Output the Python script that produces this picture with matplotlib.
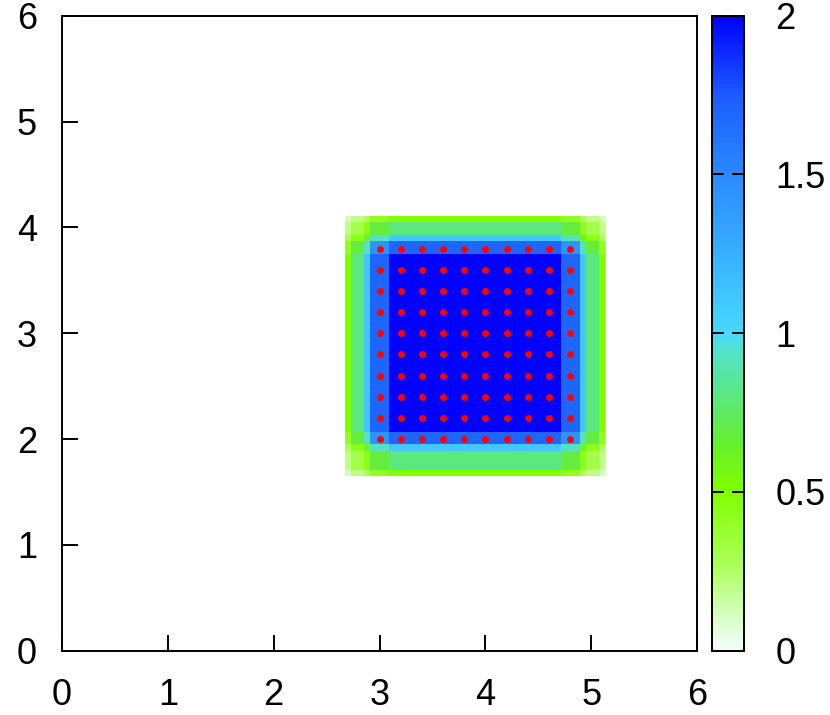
import numpy as np
import matplotlib
matplotlib.use('Agg')
import matplotlib.pyplot as plt
from matplotlib.colors import LinearSegmentedColormap

plt.rcParams['font.family'] = ['Liberation Sans', 'DejaVu Sans']

# data ~~~~~~~~~~~~~~~~~~~~~~~~~~~~~~~~~~~~~~~~~~~~~~~~~~~~~~~~~~~~~
# sample grid: 101 points from 0 to 6 (step 0.06) in both directions
n_grid = 101
x_start = 45
x_profile = [0.5, 0.8, 0.8, 1.1, 1.7, 1.7, 1.7] + [2.0] * 27 + \
            [1.7, 1.7, 1.7, 1.1, 0.8, 0.8, 0.5]
# profile, starting at sample 28 (y = 1.68)
y_start = 28
y_profile = [0.5, 0.8, 0.8, 0.8, 1.1, 1.7, 1.7] + [2.0] * 28 + \
            [1.7, 1.7, 1.1, 0.8, 0.8, 0.5]

dot_x = [3.0, 3.2, 3.4, 3.6, 3.8, 4.0, 4.2, 4.4, 4.6, 4.8]
dot_y = [2.0, 2.2, 2.4, 2.6, 2.8, 3.0, 3.2, 3.4, 3.6, 3.8]

cbar_ticks = [0, 0.5, 1, 1.5, 2]
cbar_labels = ['0', '0.5', '1', '1.5', '2']
axis_ticks = [0, 1, 2, 3, 4, 5, 6]

# colour map ~~~~~~~~~~~~~~~~~~~~~~~~~~~~~~~~~~~~~~~~~~~~~~~~~~~~~~~
cmap = LinearSegmentedColormap.from_list('pal', [
    (0.000, '#f2fff6'), (0.050, '#d8ffc8'), (0.125, '#b0ff60'),
    (0.250, '#80ff00'), (0.325, '#66ef2c'), (0.400, '#5be87f'),
    (0.475, '#52e2cc'), (0.500, '#48d8ff'), (0.625, '#38b0ff'),
    (0.750, '#2a8aff'), (0.875, '#1c5cff'), (1.000, '#0000ff')])

# field ~~~~~~~~~~~~~~~~~~~~~~~~~~~~~~~~~~~~~~~~~~~~~~~~~~~~~~~~~~~~
grid = np.linspace(0, 6, n_grid)
gx = np.zeros(n_grid)
gx[x_start:x_start + len(x_profile)] = x_profile
gy = np.zeros(n_grid)
gy[y_start:y_start + len(y_profile)] = y_profile
field = np.outer(gy, gx) / 2.0
field = np.ma.masked_where(field <= 0, field)

# plot ~~~~~~~~~~~~~~~~~~~~~~~~~~~~~~~~~~~~~~~~~~~~~~~~~~~~~~~~~~~~~
fig = plt.figure(figsize=(8.3, 7.15), dpi=100)
ax = fig.add_axes([0.0747, 0.0899, 0.7651, 0.8881])
cax = fig.add_axes([0.858, 0.0899, 0.038, 0.8881])

mesh = ax.pcolormesh(grid, grid, field, cmap=cmap, vmin=0, vmax=2,
                     shading='nearest', zorder=1)
dx, dy = np.meshgrid(dot_x, dot_y)
ax.scatter(dx.ravel(), dy.ravel(), s=25, color='#ff0000', linewidths=0,
           zorder=3)

ax.set_xlim(0, 6)
ax.set_ylim(0, 6)
ax.set_xticks(axis_ticks)
ax.set_yticks(axis_ticks)
ax.tick_params(axis='x', direction='in', length=11.5, width=1.4,
               labelsize=26, pad=20, top=False)
ax.tick_params(axis='y', direction='in', length=11.5, width=1.4,
               labelsize=26, pad=18, right=False)
for sp in ax.spines.values():
    sp.set_linewidth(1.4)

cb = fig.colorbar(mesh, cax=cax)
cb.set_ticks(cbar_ticks)
cb.set_ticklabels(cbar_labels)
cb.outline.set_linewidth(1.4)
cax.tick_params(axis='y', direction='in', length=8.5, width=1.4,
                labelsize=26, pad=23, left=True, right=True)

fig.savefig('out.png', dpi=100)
